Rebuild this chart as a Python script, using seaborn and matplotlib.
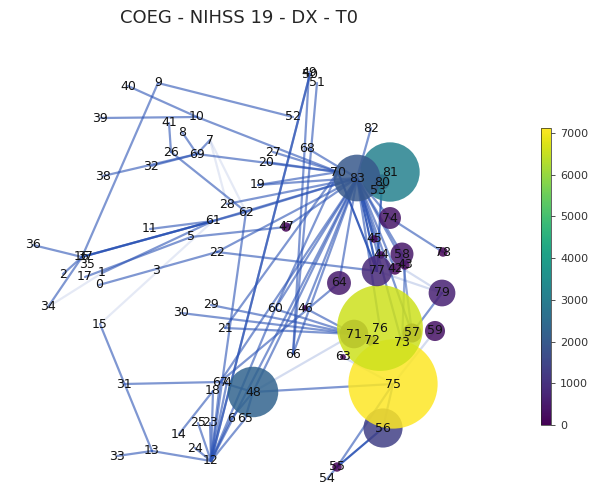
import numpy as np
import pandas as pd
import matplotlib
matplotlib.use("Agg")
import matplotlib.pyplot as plt
import seaborn as sns

sns.set_style("white")
plt.rcParams["font.family"] = ["DejaVu Sans"]

TITLE = "COEG - NIHSS 19 - DX - T0"

# node layout (x, y) -- y grows downward in this layout
node_ids = list(range(84))
node_x = [99, 102, 63, 156, 227, 191, 231, 210, 182, 158,
          197, 150, 211, 152, 179, 100, 82, 85, 213, 258,
          266, 225, 217, 210, 195, 198, 171, 273, 227, 211,
          181, 124, 151, 117, 48, 87, 33, 85, 103, 100,
          128, 169, 395, 405, 381, 374, 305, 286, 253, 309,
          310, 317, 293, 378, 327, 337, 383, 412, 402, 435,
          275, 213, 246, 343, 339, 245, 293, 220, 307, 197,
          338, 354, 372, 402, 390, 393, 380, 377, 443, 442,
          382, 390, 371, 357]
node_y = [285, 273, 274, 271, 382, 237, 419, 140, 132, 83,
          117, 229, 461, 451, 434, 324, 257, 277, 391, 185,
          162, 328, 252, 423, 448, 423, 152, 152, 204, 305,
          313, 384, 166, 456, 307, 264, 245, 256, 176, 118,
          86, 123, 269, 265, 255, 239, 308, 227, 392, 72,
          74, 83, 117, 191, 479, 467, 428, 333, 254, 331,
          309, 221, 212, 357, 283, 419, 354, 382, 148, 154,
          172, 334, 341, 343, 218, 384, 328, 271, 252, 293,
          182, 172, 128, 178]

# node strength (drives both colour and marker area)
node_value = {75: 7120, 76: 6580, 81: 3150, 48: 2280, 83: 1950, 56: 1370,
              77: 830, 71: 730, 79: 640, 64: 510, 58: 470, 74: 430,
              59: 360, 57: 325, 80: 210, 42: 117, 43: 80,
              78: 80, 47: 80, 55: 80, 72: 100, 73: 100, 44: 52, 45: 52,
              63: 30, 46: 30, 53: 40}
VMAX = 7120
AREA_PER_UNIT = 0.58

# edges (source, target, weight)
edge_src = [40, 39, 9, 9, 41, 8, 7, 38, 32, 26, 69, 10, 27, 20, 19, 28, 62, 61,
            47, 22, 68, 82, 50, 49, 51, 83, 83, 83, 83, 83, 83, 83, 70, 70,
            83, 83, 83, 83, 70, 80, 83, 83, 83, 83, 83, 83, 58, 43, 74, 79,
            48, 55, 55, 54, 56, 67, 6, 65, 6, 65, 18, 18, 67, 4, 25, 23, 24,
            13, 33, 15, 31, 12, 12, 36, 2, 34, 16, 37, 11, 1, 17, 0, 5, 61,
            22, 29, 30, 21, 60, 46, 64, 19, 12,
            15, 7, 7, 34, 48, 79, 79, 63, 59]
edge_dst = [10, 10, 52, 16, 26, 69, 69, 69, 69, 62, 70, 70, 70, 70, 83, 83, 83, 83,
            83, 83, 83, 83, 12, 66, 66, 64, 46, 60, 66, 48, 67, 12, 21, 60,
            74, 45, 44, 77, 77, 77, 42, 43, 58, 76, 73, 57, 57, 73, 78, 57,
            75, 56, 75, 55, 75, 48, 48, 48, 12, 12, 12, 14, 12, 12, 12, 12, 12,
            12, 13, 13, 67, 62, 60, 16, 16, 16, 61, 61, 61, 61, 5, 22, 47, 62,
            77, 71, 71, 71, 71, 71, 67, 70, 50,
            61, 62, 28, 1, 71, 77, 44, 75, 75]
edge_weight = [0.6, 0.6, 0.6, 0.6, 0.6, 0.6, 0.6, 0.6, 0.6, 0.6, 0.6, 0.6, 0.6, 0.6, 0.6, 0.6, 0.6, 0.6,
               0.6, 0.6, 0.6, 0.6, 0.6, 0.6, 0.6, 0.6, 0.6, 0.6, 0.6, 0.6, 0.6, 0.6, 0.6, 0.6,
               0.6, 0.7, 0.7, 0.9, 0.9, 0.8, 0.6, 0.6, 0.6, 0.6, 0.6, 0.6, 0.5, 0.5, 0.6, 0.6,
               0.6, 0.9, 0.6, 0.6, 0.6, 0.6, 0.6, 0.6, 0.6, 0.6, 0.6, 0.6, 0.6, 0.6, 0.6, 0.6, 0.6,
               0.6, 0.6, 0.6, 0.6, 0.6, 0.6, 0.6, 0.6, 0.6, 0.8, 0.8, 0.6, 0.6, 0.6, 0.6, 0.6, 0.6,
               0.6, 0.6, 0.6, 0.6, 0.6, 0.6, 0.6, 0.6, 0.6,
               0.12, 0.12, 0.12, 0.12, 0.2, 0.2, 0.2, 0.2, 0.2]

nodes = pd.DataFrame({"node": node_ids, "x": node_x, "y": node_y})
nodes["value"] = nodes["node"].map(node_value).fillna(0.0)

fig = plt.figure(figsize=(5.90, 4.87), dpi=100)
ax = fig.add_axes([0, 0, 1, 1])

# edges below the nodes
pos = nodes.set_index("node")[["x", "y"]]
for s, t, w in zip(edge_src, edge_dst, edge_weight):
    ax.plot([pos.at[s, "x"], pos.at[t, "x"]], [pos.at[s, "y"], pos.at[t, "y"]],
            color="#2a52b4", alpha=w, lw=1.6, zorder=1, solid_capstyle="round")

sns.scatterplot(data=nodes, x="x", y="y", hue="value", palette="viridis",
                hue_norm=(0, VMAX), size="value",
                sizes=(0, VMAX * AREA_PER_UNIT), size_norm=(0, VMAX),
                legend=False, alpha=0.85, linewidth=0, ax=ax, zorder=2)
ax.set_xlim(0, 590)
ax.set_ylim(487, 0)
ax.set_axis_off()

for n, x, y in zip(nodes["node"], nodes["x"], nodes["y"]):
    ax.text(x, y, str(n), ha="center", va="center", fontsize=9,
            color="#111111", zorder=3)

fig.text(239 / 590, 1 - 18 / 487, TITLE, ha="center", va="center", fontsize=13)

cax = fig.add_axes([541 / 590, (487 - 425) / 487, 10 / 590, 297 / 487])
sm = plt.cm.ScalarMappable(cmap="viridis", norm=plt.Normalize(0, VMAX))
cb = fig.colorbar(sm, cax=cax, ticks=[0, 1000, 2000, 3000, 4000, 5000, 6000, 7000])
cb.ax.tick_params(labelsize=8, length=3, width=0.6, colors="#333333")
cb.outline.set_linewidth(0.5)

fig.savefig("out.png", dpi=100)
